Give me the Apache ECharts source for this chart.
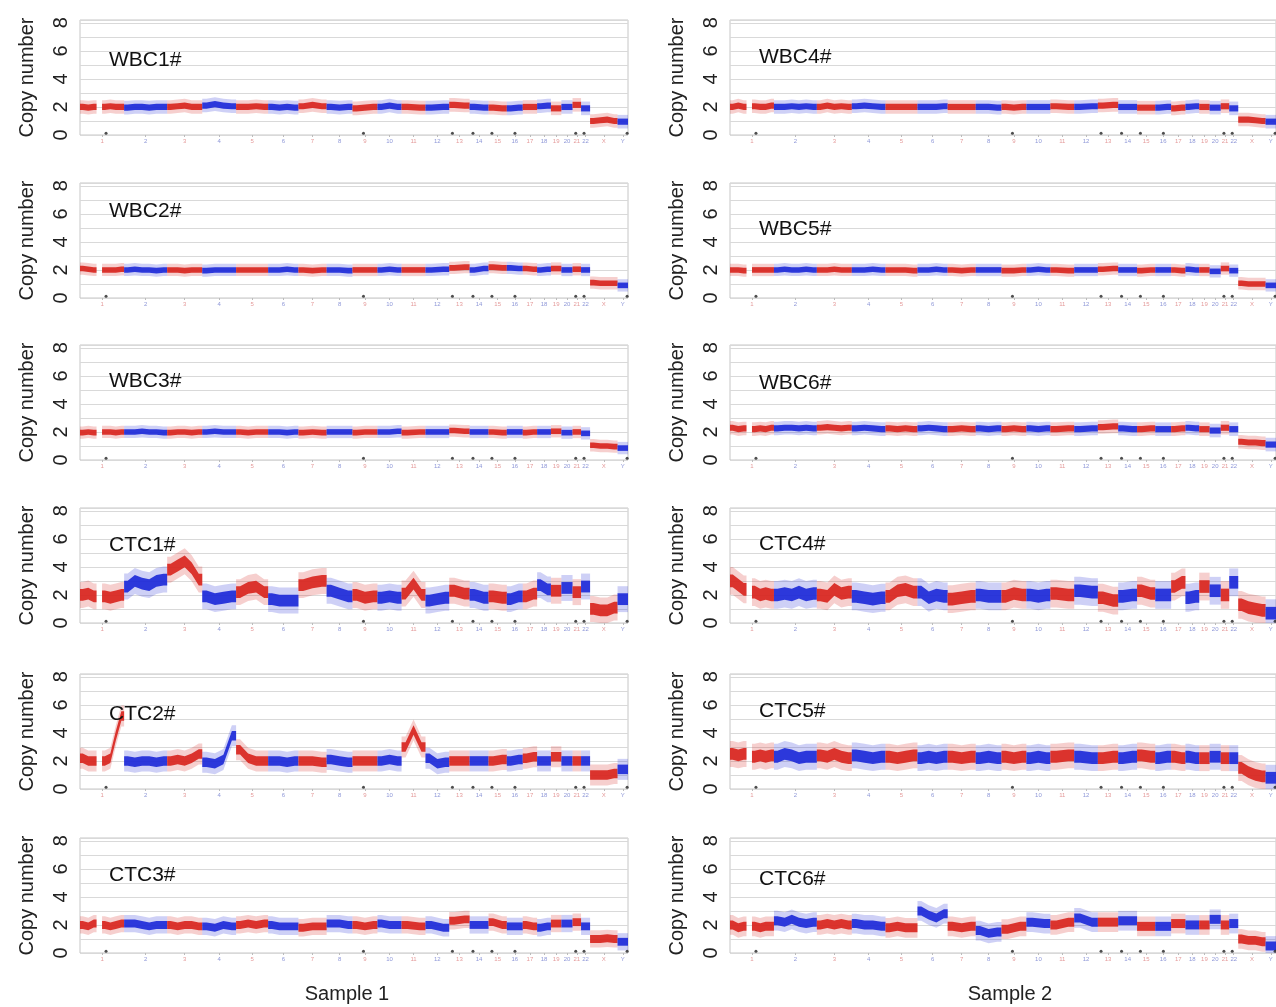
<!DOCTYPE html>
<html>
<head>
<meta charset="utf-8">
<title>Copy number profiles</title>
<script src="https://cdn.jsdelivr.net/npm/echarts@6/dist/echarts.min.js"></script>
<style>
  html, body { margin: 0; padding: 0; background: #fff; }
  #chart { width: 1276px; height: 1007px; }
</style>
</head>
<body>
<div id="chart"></div>
<script>
// chromosomes, lengths in Mb (hg19, rounded)
const chrNames = ['1','2','3','4','5','6','7','8','9','10','11','12','13','14','15','16','17','18','19','20','21','22','X','Y'];
const chrLengths = [249,243,198,191,181,171,159,146,141,136,135,134,115,107,103,90,81,78,59,63,48,51,155,59];

// black marks near 0 (gap positions, Mb)
const gapMarks = [147, 1600, 2102, 2218, 2325, 2455, 2798, 2845, 3088];

// copy number per chromosome, read bin by bin along each chromosome (null = no data)
const wbc1 = [[2.0,1.95,2.0,null,2.0,2.05,2.0,2.0],[1.95,2.0,2.0,1.95,2.0,2.0],[2.0,2.05,2.1,2.0,2.0],[2.1,2.2,2.1,2.05],[2.0,2.0,2.05,2.0],[2.0,1.95,2.0,1.95],[2.05,2.15,2.05],[2.0,1.95,2.0],[1.9,1.95,2.0],[2.0,2.1,2.0],[2.0,1.95],[1.95,2.0],[2.15,2.1],[2.0,1.95],[1.95,1.9],[1.9,1.95],[2.0,2.0],[2.05,2.1],[1.9],[2.0],[2.15],[1.9],[1.0,1.05,1.1,1.0],[0.95]];
const wbc2 = [[2.1,2.05,2.0,null,2.0,2.0,2.0,2.05],[2.0,2.05,2.0,2.0,1.95,2.0],[2.0,2.0,1.95,2.0,2.0],[1.95,2.0,2.0,2.0],[2.0,2.0,2.0,2.0],[2.0,2.0,2.05,2.0],[2.0,1.95,2.0],[2.0,2.0,1.95],[2.0,2.0,2.0],[2.0,2.05,2.0],[2.0,2.0],[2.0,2.05],[2.15,2.2],[2.0,2.1],[2.2,2.15],[2.15,2.1],[2.1,2.05],[2.0,2.05],[2.1],[2.0],[2.05],[2.0],[1.1,1.05,1.05,1.05],[0.9]];
const wbc3 = [[1.95,2.0,1.95,null,2.0,2.0,1.95,2.0],[2.0,2.0,2.05,2.0,2.0,1.95],[1.95,2.0,2.0,1.95,2.0],[2.0,2.05,2.0,2.0],[2.0,1.95,2.0,2.0],[2.0,2.0,1.95,2.0],[1.95,2.0,1.95],[2.0,2.0,2.0],[1.95,2.0,2.0],[2.0,2.0,2.05],[1.95,2.0],[2.0,2.0],[2.1,2.05],[2.0,2.0],[2.0,1.95],[2.0,2.0],[1.95,2.0],[2.0,2.0],[2.05],[1.95],[2.0],[1.9],[1.05,1.0,1.0,0.95],[0.85]];
const ctc1 = [[2.0,2.1,1.9,null,1.9,1.8,1.9,2.0],[2.6,3.0,2.8,2.7,3.0,3.1],[3.8,4.1,4.4,3.9,3.1],[1.9,1.7,1.8,1.9],[2.2,2.5,2.6,2.2],[1.7,1.6,1.6,1.6],[2.7,2.9,3.0],[2.3,2.1,1.9],[2.0,1.8,1.9],[1.8,1.9,1.8],[2.1,2.8,2.0],[1.6,1.7,1.8],[2.3,2.1],[2.0,1.8],[1.9,1.8],[1.7,1.9],[1.9,2.1],[2.7,2.4],[2.3],[2.5],[2.2],[2.6],[1.0,0.9,0.9,1.1],[1.7]];
const ctc2 = [[2.2,2.0,2.0,null,2.0,2.2,3.8,5.2],[2.0,1.9,2.0,2.0,1.9,2.0],[2.0,2.1,2.0,2.2,2.5],[1.9,1.8,2.1,3.8],[2.8,2.2,2.0,2.0],[2.0,2.0,1.9,2.0],[2.0,2.0,1.9],[2.1,2.0,1.9],[2.0,2.0,2.0],[2.0,2.1,2.0],[3.0,4.2,3.0],[2.2,1.8,1.9],[2.0,2.0],[2.0,2.0],[2.0,2.1],[2.0,2.1],[2.2,2.3],[2.0,2.0],[2.3],[2.0],[2.0],[2.0],[1.0,1.0,1.0,1.1],[1.4]];
const ctc3 = [[2.0,1.9,2.1,null,2.0,1.9,2.0,2.1],[2.1,2.1,2.0,1.9,2.0,2.0],[2.0,1.9,2.0,2.0,1.9],[1.9,1.8,2.0,1.9],[2.0,2.1,2.0,2.1],[2.0,1.9,1.9,1.9],[1.8,1.9,1.9],[2.1,2.1,2.0],[2.0,1.9,2.0],[2.1,2.0,2.0],[2.0,1.9],[2.0,1.8],[2.3,2.4],[2.0,2.0],[2.2,2.0],[1.9,1.9],[2.0,1.9],[1.8,1.9],[2.1],[2.1],[2.2],[1.9],[1.0,1.0,1.05,1.0],[0.8]];
const wbc4 = [[2.0,2.1,2.0,null,2.05,2.0,2.0,2.1],[2.0,2.0,2.05,2.0,2.05,2.0],[2.0,2.1,2.0,2.05,2.0],[2.05,2.1,2.05,2.0],[2.0,2.0,2.0,2.0],[2.0,2.0,2.0,2.05],[2.0,2.0,2.0],[2.0,2.0,1.95],[2.0,1.95,2.0],[2.0,2.0,2.0],[2.05,2.0],[2.0,2.05],[2.1,2.15],[2.0,2.0],[1.95,1.95],[1.95,2.0],[1.9,1.95],[2.0,2.05],[2.0],[1.95],[2.05],[1.9],[1.1,1.1,1.05,1.0],[0.95]];
const wbc5 = [[2.0,2.0,1.95,null,2.0,2.0,2.0,2.0],[2.0,2.05,2.0,2.0,2.05,2.0],[2.0,2.0,2.05,2.0,2.0],[2.0,2.0,2.05,2.0],[2.0,2.0,2.0,1.95],[2.0,2.0,2.05,2.0],[2.0,1.95,2.0],[2.0,2.0,2.0],[1.95,1.95,2.0],[2.0,2.05,2.0],[2.0,1.95],[2.0,2.0],[2.05,2.1],[2.0,2.0],[1.95,2.0],[2.0,2.0],[2.0,1.95],[2.05,2.0],[2.0],[1.9],[2.1],[1.95],[1.05,1.0,1.0,1.0],[0.9]];
const wbc6 = [[2.3,2.2,2.25,null,2.2,2.25,2.2,2.3],[2.25,2.3,2.3,2.25,2.3,2.25],[2.3,2.35,2.3,2.25,2.3],[2.25,2.3,2.25,2.2],[2.25,2.2,2.25,2.2],[2.25,2.3,2.25,2.2],[2.2,2.25,2.2],[2.25,2.2,2.25],[2.2,2.25,2.2],[2.25,2.2,2.25],[2.2,2.25],[2.2,2.25],[2.35,2.4],[2.25,2.2],[2.2,2.25],[2.2,2.2],[2.2,2.25],[2.3,2.25],[2.2],[2.1],[2.3],[2.2],[1.3,1.25,1.25,1.2],[1.1]];
const ctc4 = [[3.0,2.7,2.4,null,2.2,2.0,2.1,2.0],[2.0,2.1,2.0,2.2,2.0,2.1],[2.0,1.9,2.4,2.1,2.2],[1.9,1.8,1.7,1.8],[1.9,2.3,2.4,2.2],[2.2,1.8,2.0,1.9],[1.7,1.8,1.9],[2.0,1.9,1.9],[1.9,2.1,2.0],[2.0,1.9,2.0],[2.1,2.0],[2.3,2.2],[1.8,1.6],[1.9,2.0],[2.3,2.1],[2.0,2.0],[2.6,2.9],[1.8,1.9],[2.6],[2.3],[2.0],[2.9],[1.3,1.1,1.0,0.9],[0.7]];
const ctc5 = [[2.5,2.4,2.5,null,2.3,2.4,2.3,2.4],[2.3,2.5,2.4,2.2,2.3,2.3],[2.4,2.3,2.5,2.3,2.2],[2.4,2.3,2.2,2.3],[2.3,2.2,2.3,2.4],[2.2,2.3,2.2,2.3],[2.3,2.2,2.3],[2.2,2.3,2.2],[2.3,2.2,2.3],[2.2,2.3,2.2],[2.3,2.4],[2.3,2.2],[2.2,2.3],[2.2,2.3],[2.4,2.3],[2.2,2.3],[2.3,2.2],[2.3,2.2],[2.2],[2.3],[2.2],[2.2],[1.5,1.2,1.0,0.9],[0.8]];
const ctc6 = [[2.0,1.8,1.9,null,1.9,1.8,1.9,1.9],[2.3,2.2,2.4,2.2,2.1,2.2],[2.0,2.1,2.0,2.1,2.0],[2.1,2.0,2.0,1.9],[1.8,1.9,1.8,1.8],[3.0,2.7,2.5,2.8],[1.9,1.8,1.9],[1.6,1.4,1.5],[1.7,1.9],[2.2,2.1],[2.0,2.2],[2.5,2.2],[2.2],[2.3],[1.9],[1.9],[2.1],[2.0],[2.0],[2.4],[2.0],[2.1],[1.0,0.9,0.9,0.8],[0.5]];

const panelNames = ['WBC1#','WBC2#','WBC3#','CTC1#','CTC2#','CTC3#','WBC4#','WBC5#','WBC6#','CTC4#','CTC5#','CTC6#'];
const panelData = [wbc1, wbc2, wbc3, ctc1, ctc2, ctc3, wbc4, wbc5, wbc6, ctc4, ctc5, ctc6];
// half width of the point cloud around the level, copy-number units
const panelSpread = [0.22, 0.2, 0.2, 0.42, 0.34, 0.28, 0.22, 0.2, 0.22, 0.45, 0.42, 0.32];
const sampleNames = ['Sample 1', 'Sample 2'];

const FONT = '"Liberation Sans", Arial, sans-serif';
const RED = '#d8261f';
const BLUE = '#1e2ad8';

const chrStarts = [];
let acc = 0;
chrLengths.forEach(l => { chrStarts.push(acc); acc += l; });
const genomeLen = acc;
const chrCenters = chrStarts.map((s, i) => s + chrLengths[i] / 2);

const colLeft = [80, 730];
const plotW = 548;
const rowBottom = [135, 298, 460, 623, 789, 953];
const plotH = 115; // 0 .. 8.2
const labelY = [[60, 211, 381, 545, 714, 875], [57, 229, 383, 544, 711, 879]];

function bandRender(bins, spread) {
  return function (params, api) {
    const ci = params.dataIndex;
    const vals = bins[ci];
    const x0 = chrStarts[ci], w = chrLengths[ci] / vals.length;
    const color = ci % 2 === 0 ? RED : BLUE;
    const children = [];
    let k = 0;
    while (k < vals.length) {
      if (vals[k] == null) { k++; continue; }
      let k1 = k;
      while (k1 + 1 < vals.length && vals[k1 + 1] != null) k1++;
      const run = [];
      run.push([x0 + k * w, vals[k]]);
      for (let j = k; j <= k1; j++) run.push([x0 + (j + 0.5) * w, vals[j]]);
      run.push([x0 + (k1 + 1) * w, vals[k1]]);
      [[2.2, 0.22], [1, 0.92]].forEach(([f, op]) => {
        const s = spread * f;
        const pts = run.map(p => api.coord([p[0], p[1] + s]))
          .concat(run.slice().reverse().map(p => api.coord([p[0], Math.max(0, p[1] - s)])));
        children.push({ type: 'polygon', shape: { points: pts }, style: { fill: color, opacity: op } });
      });
      k = k1 + 1;
    }
    return { type: 'group', children };
  };
}

const grids = [], xAxes = [], yAxes = [], series = [], graphics = [];
panelNames.forEach((name, i) => {
  const col = Math.floor(i / 6), row = i % 6;
  grids.push({
    left: colLeft[col], width: plotW, top: rowBottom[row] - plotH, height: plotH,
    show: true, borderColor: '#c6c6c6', borderWidth: 1, backgroundColor: '#fff'
  });
  xAxes.push({
    gridIndex: i, type: 'value', min: 0, max: genomeLen,
    splitLine: { show: false }, axisLine: { show: false },
    axisTick: { show: true, customValues: chrCenters, length: 2, lineStyle: { color: '#bbb' } },
    axisLabel: {
      customValues: chrCenters, fontSize: 6, margin: 3, fontFamily: FONT,
      formatter: v => {
        const k = chrCenters.indexOf(v);
        return k < 0 ? '' : (k % 2 === 0 ? '{r|' : '{b|') + chrNames[k] + '}';
      },
      rich: { r: { color: '#e49a9a', fontSize: 6 }, b: { color: '#8f98d8', fontSize: 6 } }
    }
  });
  yAxes.push({
    gridIndex: i, type: 'value', min: 0, max: 8.2, interval: 1,
    name: 'Copy number', nameLocation: 'middle', nameGap: 43,
    nameTextStyle: { fontSize: 20, color: '#222', fontFamily: FONT },
    axisLine: { show: false }, axisTick: { show: false },
    splitLine: { lineStyle: { color: '#d9d9d9', width: 1 } },
    axisLabel: {
      rotate: 90, fontSize: 20, color: '#222', margin: 9, fontFamily: FONT,
      formatter: v => (Number.isInteger(v) && v % 2 === 0 ? String(v) : '')
    }
  });
  series.push({
    type: 'custom', xAxisIndex: i, yAxisIndex: i,
    renderItem: bandRender(panelData[i], panelSpread[i]),
    data: chrNames.map((n, k) => [chrCenters[k], 2]),
    silent: true, animation: false
  });
  series.push({
    type: 'scatter', xAxisIndex: i, yAxisIndex: i, symbolSize: 3,
    itemStyle: { color: '#222' }, silent: true, animation: false,
    data: gapMarks.map(x => [x, 0.12])
  });
  graphics.push({
    type: 'text', z: 100, x: colLeft[col] + 29, y: labelY[col][row],
    style: { text: name, fontSize: 21, fill: '#111', fontFamily: FONT, verticalAlign: 'middle' }
  });
});
sampleNames.forEach((s, c) => {
  graphics.push({
    type: 'text', z: 100, x: [347, 1010][c], y: 994,
    style: { text: s, fontSize: 20, fill: '#222', fontFamily: FONT, align: 'center', verticalAlign: 'middle' }
  });
});

const chart = echarts.init(document.getElementById('chart'), null, { renderer: 'canvas' });
chart.setOption({
  backgroundColor: '#fff',
  animation: false,
  grid: grids, xAxis: xAxes, yAxis: yAxes, series: series,
  graphic: graphics
});
</script>
</body>
</html>
